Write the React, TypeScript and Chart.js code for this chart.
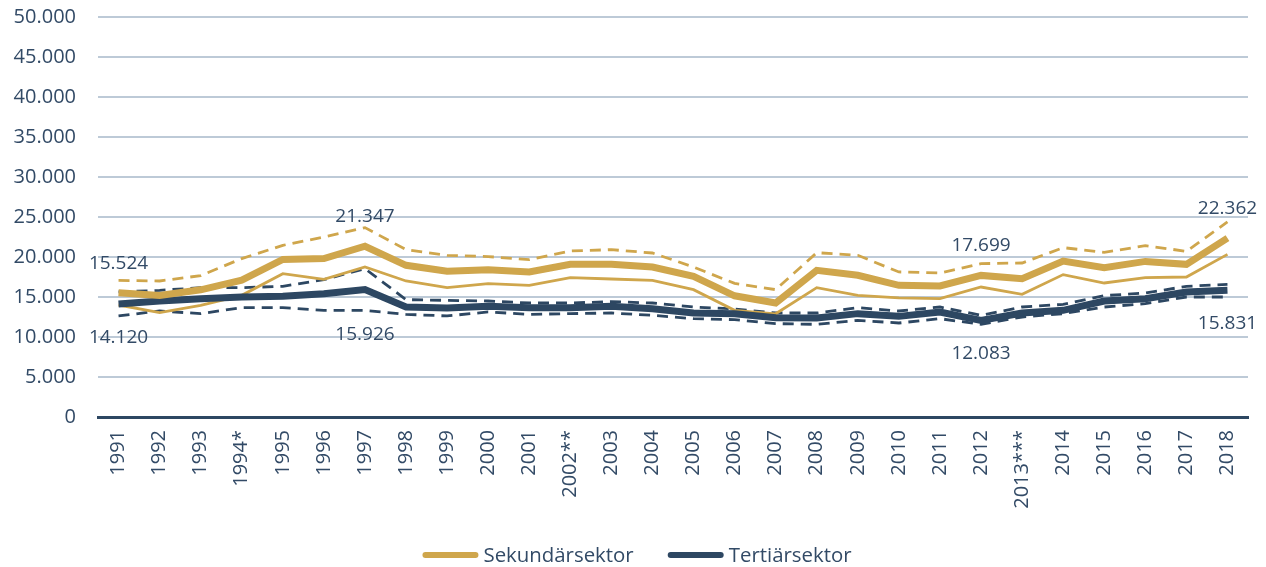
import React, { useEffect, useRef } from 'react';
import { Chart, registerables } from 'chart.js';

Chart.register(...registerables);

// ---- data ----
const years = ['1991', '1992', '1993', '1994*', '1995', '1996', '1997', '1998', '1999', '2000', '2001', '2002**', '2003', '2004', '2005', '2006', '2007', '2008', '2009', '2010', '2011', '2012', '2013***', '2014', '2015', '2016', '2017', '2018'];

const sekundaer = [15524, 15200, 15900, 17100, 19700, 19800, 21347, 18960, 18210, 18420, 18130, 19080, 19080, 18750, 17580, 15150, 14250, 18330, 17710, 16460, 16380, 17699, 17290, 19500, 18670, 19450, 19080, 22362];
const sekundaerUpper = [17080, 17000, 17670, 19800, 21460, 22500, 23670, 20920, 20210, 20050, 19670, 20750, 20920, 20500, 18750, 16700, 15920, 20540, 20210, 18130, 18000, 19170, 19250, 21170, 20580, 21420, 20710, 24380];
const sekundaerLower = [14000, 13050, 13960, 15210, 17920, 17210, 18750, 17000, 16170, 16670, 16460, 17420, 17250, 17080, 15920, 13330, 12900, 16170, 15210, 14880, 14790, 16250, 15330, 17800, 16750, 17420, 17500, 20330];

const tertiaer = [14120, 14500, 14790, 15000, 15080, 15420, 15926, 13750, 13630, 13830, 13670, 13670, 13830, 13540, 13000, 12900, 12420, 12380, 12920, 12580, 13130, 12083, 13000, 13330, 14500, 14790, 15630, 15831];
const tertiaerUpper = [15630, 15830, 16170, 16170, 16330, 17170, 18540, 14670, 14580, 14500, 14250, 14250, 14420, 14250, 13750, 13500, 13000, 13000, 13670, 13250, 13750, 12710, 13750, 14080, 15170, 15500, 16330, 16580];
const tertiaerLower = [12630, 13250, 12920, 13670, 13670, 13330, 13330, 12830, 12630, 13130, 12830, 12920, 13000, 12710, 12290, 12170, 11670, 11580, 12080, 11750, 12290, 11580, 12500, 12920, 13750, 14170, 15000, 15000];

const labeledIndices = [0, 6, 21, 27];
const legendItems = ['Sekundärsektor', 'Tertiärsektor'];

// ---- style ----
const GOLD = '#CFA64C';
const NAVY = '#2D4762';
const TEXT = '#324A66';
const GRID = '#BDCAD7';
const FONT = "'Open Sans', sans-serif";

const fmt = (v: number) => String(Math.round(v)).replace(/\B(?=(\d{3})+(?!\d))/g, '.');

const labelStyle = [
  { ds: 0, dy: -31 },
  { ds: 1, dy: 32 },
];
const navy1997ExtraDy = 11;

const valueLabelsPlugin = {
  id: 'valueLabels',
  afterDatasetsDraw(chart: any) {
    const ctx = chart.ctx;
    ctx.save();
    ctx.font = `19px ${FONT}`;
    ctx.fillStyle = TEXT;
    ctx.textAlign = 'center';
    ctx.textBaseline = 'alphabetic';
    const series = [sekundaer, tertiaer];
    labelStyle.forEach((s, k) => {
      const meta = chart.getDatasetMeta(s.ds);
      labeledIndices.forEach((i) => {
        const pt = meta.data[i];
        if (!pt) return;
        let dy = s.dy;
        if (k === 1 && i === 6) dy += navy1997ExtraDy;
        ctx.fillText(fmt(series[k][i]), pt.x, pt.y + dy + 7);
      });
    });
    ctx.restore();
  },
};

const legendPlugin = {
  id: 'customLegend',
  afterDraw(chart: any) {
    const ctx = chart.ctx;
    ctx.save();
    ctx.font = `20.4px ${FONT}`;
    const colors = [GOLD, NAVY];
    const lineLen = 56;
    const gapText = 5;
    const gapItem = 34;
    const widths = legendItems.map((t) => ctx.measureText(t).width);
    const total = widths.reduce((a, w) => a + lineLen + gapText + w, 0) + gapItem * (legendItems.length - 1);
    let x = 637 - total / 2;
    const y = 555;
    legendItems.forEach((t, k) => {
      ctx.strokeStyle = colors[k];
      ctx.lineWidth = 6;
      ctx.lineCap = 'round';
      ctx.beginPath();
      ctx.moveTo(x + 3, y);
      ctx.lineTo(x + lineLen - 3, y);
      ctx.stroke();
      ctx.fillStyle = TEXT;
      ctx.textAlign = 'left';
      ctx.textBaseline = 'alphabetic';
      ctx.fillText(t, x + lineLen + gapText, y + 7);
      x += lineLen + gapText + widths[k] + gapItem;
    });
    ctx.restore();
  },
};

export default function App() {
  const ref = useRef<HTMLCanvasElement | null>(null);

  useEffect(() => {
    if (!ref.current) return;
    const solid = (label: string, data: number[], color: string, width: number) => ({
      label,
      data,
      borderColor: color,
      backgroundColor: color,
      borderWidth: width,
      pointRadius: 0,
      pointHoverRadius: 0,
      tension: 0,
      fill: false,
    });
    const dashed = (label: string, data: number[], color: string) => ({
      ...solid(label, data, color, 2.8),
      borderDash: [11, 7],
    });

    const chart = new Chart(ref.current, {
      type: 'line',
      data: {
        labels: years,
        datasets: [
          solid('Sekundärsektor', sekundaer, GOLD, 7),
          solid('Tertiärsektor', tertiaer, NAVY, 7),
          dashed('Sekundärsektor (oben)', sekundaerUpper, GOLD),
          solid('Sekundärsektor (unten)', sekundaerLower, GOLD, 2.8),
          dashed('Tertiärsektor (oben)', tertiaerUpper, NAVY),
          dashed('Tertiärsektor (unten)', tertiaerLower, NAVY),
        ],
      },
      options: {
        responsive: false,
        animation: false,
        layout: { padding: { top: 17, right: 18, left: 0, bottom: 0 } },
        plugins: {
          tooltip: { enabled: false },
          legend: { display: false },
        },
        scales: {
          x: {
            offset: true,
            grid: { display: false, drawTicks: false },
            border: { display: true, color: NAVY, width: 3 },
            ticks: {
              color: TEXT,
              font: { family: FONT, size: 20 },
              minRotation: 90,
              maxRotation: 90,
              padding: 13,
              autoSkip: false,
            },
            afterFit: (scale: any) => { scale.height = 150; },
          },
          y: {
            min: 0,
            max: 50000,
            grid: { color: GRID, lineWidth: 2, drawTicks: false },
            border: { display: false },
            ticks: {
              stepSize: 5000,
              color: TEXT,
              font: { family: FONT, size: 20 },
              padding: 22,
              callback: (v: any) => fmt(Number(v)),
            },
            afterFit: (scale: any) => {
              scale.width = 98;
              scale.paddingTop = 0;
              scale.paddingBottom = 0;
            },
          },
        },
      },
      plugins: [valueLabelsPlugin, legendPlugin],
    } as any);
    return () => chart.destroy();
  }, []);

  return (
    <div style={{ position: 'fixed', left: 0, top: 0, width: 1266, height: 567, background: '#fff' }}>
      <canvas ref={ref} width={1266} height={567} style={{ display: 'block' }} />
    </div>
  );
}
